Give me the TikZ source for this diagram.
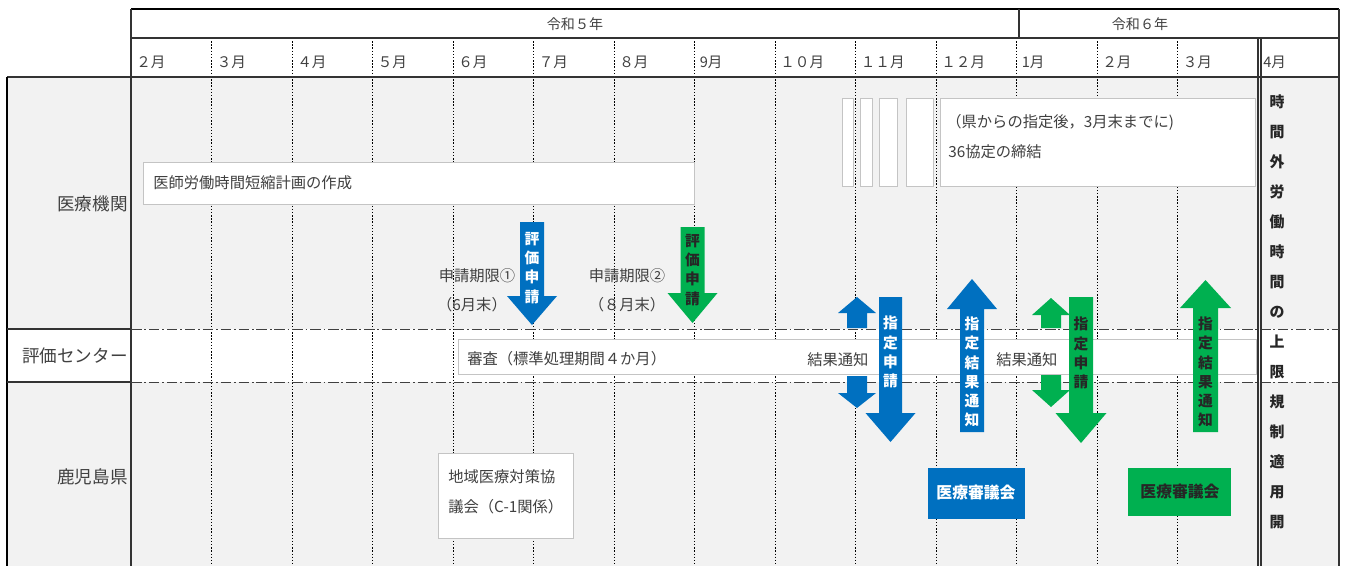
\documentclass[tikz,border=0pt]{standalone}
\usepackage{fontspec}
\setmainfont{Noto Sans CJK JP}
\usetikzlibrary{calc}
\definecolor{kblue}{HTML}{0070C0}
\definecolor{kgreen}{HTML}{00B050}
\definecolor{kgray}{HTML}{F2F2F2}
\definecolor{ktext}{HTML}{404040}
\definecolor{kframe}{HTML}{C4C4C4}
% block arrow: (centre x)(shaft start:head base:tip:shaft half width:head half width)
\def\blockarrow[#1](#2)(#3:#4:#5:#6:#7){\fill[#1] ({#2-#6},#3) -- ({#2-#6},#4) -- ({#2-#7},#4) -- (#2,#5) -- ({#2+#7},#4) -- ({#2+#6},#4) -- ({#2+#6},#3) -- cycle;}

\tikzset{
	lbl/.style={text=ktext, font=\fontsize{8.7}{10}\selectfont, inner sep=0pt},
	rowlbl/.style={lbl, anchor=east, font=\fontsize{10}{12}\selectfont},
	month/.style={lbl, anchor=west, font=\fontsize{8.3}{9}\selectfont},
	whitebox/.style={draw=kframe, fill=white, line width=0.4pt},
	dashdot/.style={line width=0.5pt, draw=black!75, dash pattern=on 6pt off 1.6pt on 1pt off 1.6pt},
	monthline/.style={line width=0.4pt, dash pattern=on 0.8pt off 1pt},
	frame/.style={line width=0.6pt, draw=black!80},
	arrowtext/.style={align=center, inner sep=0pt, font=\bfseries\fontsize{8.4}{10.9}\selectfont},
}

\begin{document}
\begin{tikzpicture}[x=0.02cm, y=-0.02cm]
		\useasboundingbox (0,0) rectangle (1345,566);
		%%%%% BACKGROUND %%%%%
		\fill[kgray] (7,77) rectangle (1339,566);
		\fill[white] (7,329) rectangle (1339,382);
		
		%%%%% MONTH GRID %%%%%
		\foreach \i in {1,...,13}
			\draw[monthline] ({131+80.5*\i},38) -- ({131+80.5*\i},566);
		\foreach \m [count=\i from 0] in {２月,３月,４月,５月,６月,７月,８月,9月,１０月,１１月,１２月,1月,２月,３月,4月}
			\node[month] (m\i) at ({136+80.5*\i},62) {\m};
		
		%%%%% HEADER %%%%%
		\draw[line width=1.3pt] (131,9) -- (1339,9);
		\draw[frame] (131,9) -- (131,77);
		\draw[frame] (1339,9) -- (1339,566);
		\draw[frame] (131,38) -- (1339,38);
		\draw[frame] (1019,9) -- (1019,38);
		\draw[frame] (7,77) -- (1339,77);
		\node[lbl, font=\fontsize{8}{9}\selectfont] (r5) at (575,24) {令和５年};
		\node[lbl, font=\fontsize{8}{9}\selectfont] (r6) at (1140,24) {令和６年};
		
		%%%%% ROWS %%%%%
		\draw[line width=0.9pt] (7,77) -- (7,566);
		\draw[frame] (131,77) -- (131,566);
		\draw[frame] (7,329) -- (131,329);
		\draw[frame] (7,382) -- (131,382);
		\draw[dashdot] (131,329) -- (1339,329);
		\draw[dashdot] (131,382) -- (1339,382);
		\draw[frame] (1258,38) -- (1258,566);
		\draw[frame] (1261,38) -- (1261,566);
		\node[rowlbl] (iryo) at (128,204) {医療機関};
		\node[rowlbl] (center) at (128,356) {評価センター};
		\node[rowlbl] (pref) at (128,477) {鹿児島県};
		
		%%%%% BOXES %%%%%
		\draw[whitebox] (143,162) rectangle (694,204);
		\node[lbl, anchor=west] (plan) at (153,183) {医師労働時間短縮計画の作成};
		
		\draw[whitebox] (842,98) rectangle (853,186);
		\draw[whitebox] (860,98) rectangle (872,186);
		\draw[whitebox] (879,98) rectangle (897,186);
		\draw[whitebox] (906,98) rectangle (933,186);
		\draw[whitebox] (940,98) rectangle (1255,186);
		\node[lbl, anchor=west] (after) at (946,122) {（県からの指定後，3月末までに)};
		\node[lbl, anchor=west] (agree) at (948,152) {36協定の締結};
		
		\draw[whitebox] (458,339) rectangle (1256,374);
		\node[lbl, anchor=west] (review) at (467,359) {審査（標準処理期間４か月）};
		\node[lbl, anchor=west] (notice1) at (807,360) {結果通知};
		\node[lbl, anchor=west] (notice2) at (996,360) {結果通知};
		
		\node[lbl] (limit1) at (477,276) {申請期限①};
		\node[lbl] (end1) at (472,305) {（6月末）};
		\node[lbl] (limit2) at (627,276) {申請期限②};
		\node[lbl] (end2) at (627,305) {（８月末）};
		
		\draw[whitebox] (438,453) rectangle (573,538);
		\node[lbl, anchor=west] (kyo1) at (448,477) {地域医療対策協};
		\node[lbl, anchor=west] (kyo2) at (448,507) {議会（C-1関係）};
		
		\fill[kblue] (928,468) rectangle (1025,519);
		\node[arrowtext, text=white, font=\bfseries\fontsize{9}{11}\selectfont] (council1) at (976,492) {医療審議会};
		\fill[kgreen] (1128,468) rectangle (1231,516);
		\node[arrowtext, text=black!85, font=\bfseries\fontsize{9}{11}\selectfont] (council2) at (1180,491) {医療審議会};
		
		%%%%% ARROWS %%%%%
		\blockarrow[kblue](532)(222:296:325:12:25)
		\node[arrowtext, text=white] (eval1) at (532,268) {評\\価\\申\\請};
		\blockarrow[kgreen](692.5)(227:293:323:12:25)
		\node[arrowtext, text=black!85] (eval2) at (692.5,270) {評\\価\\申\\請};
		
		\blockarrow[kblue](857)(328:313:297:10:19)
		\blockarrow[kblue](857)(376:393:408:10:19)
		\blockarrow[kblue](890.5)(297:413:442:11.5:25)
		\node[arrowtext, text=white] (apply1) at (890.5,352) {指\\定\\申\\請};
		\blockarrow[kblue](972)(432:309:279:12:25)
		\node[arrowtext, text=white] (result1) at (972,372) {指\\定\\結\\果\\通\\知};
		
		\blockarrow[kgreen](1051)(328:315:298:10:19)
		\blockarrow[kgreen](1051)(375:390:407:10:19)
		\blockarrow[kgreen](1081)(297:413:443:12:25.5)
		\node[arrowtext, text=black!85] (apply2) at (1081,353) {指\\定\\申\\請};
		\blockarrow[kgreen](1205.5)(432:308:280:12.5:25.5)
		\node[arrowtext, text=black!85] (result2) at (1205.5,372) {指\\定\\結\\果\\通\\知};
		
		%%%%% LIMIT COLUMN %%%%%
		\foreach \c [count=\i from 0] in {時,間,外,労,働,時,間,の,上,限,規,制,適,用,開}
			\node[arrowtext, text=black!85, font=\bfseries\fontsize{8.5}{10}\selectfont] (lim\i) at (1277,{102+30*\i}) {\c};
	\end{tikzpicture}
\end{document}
